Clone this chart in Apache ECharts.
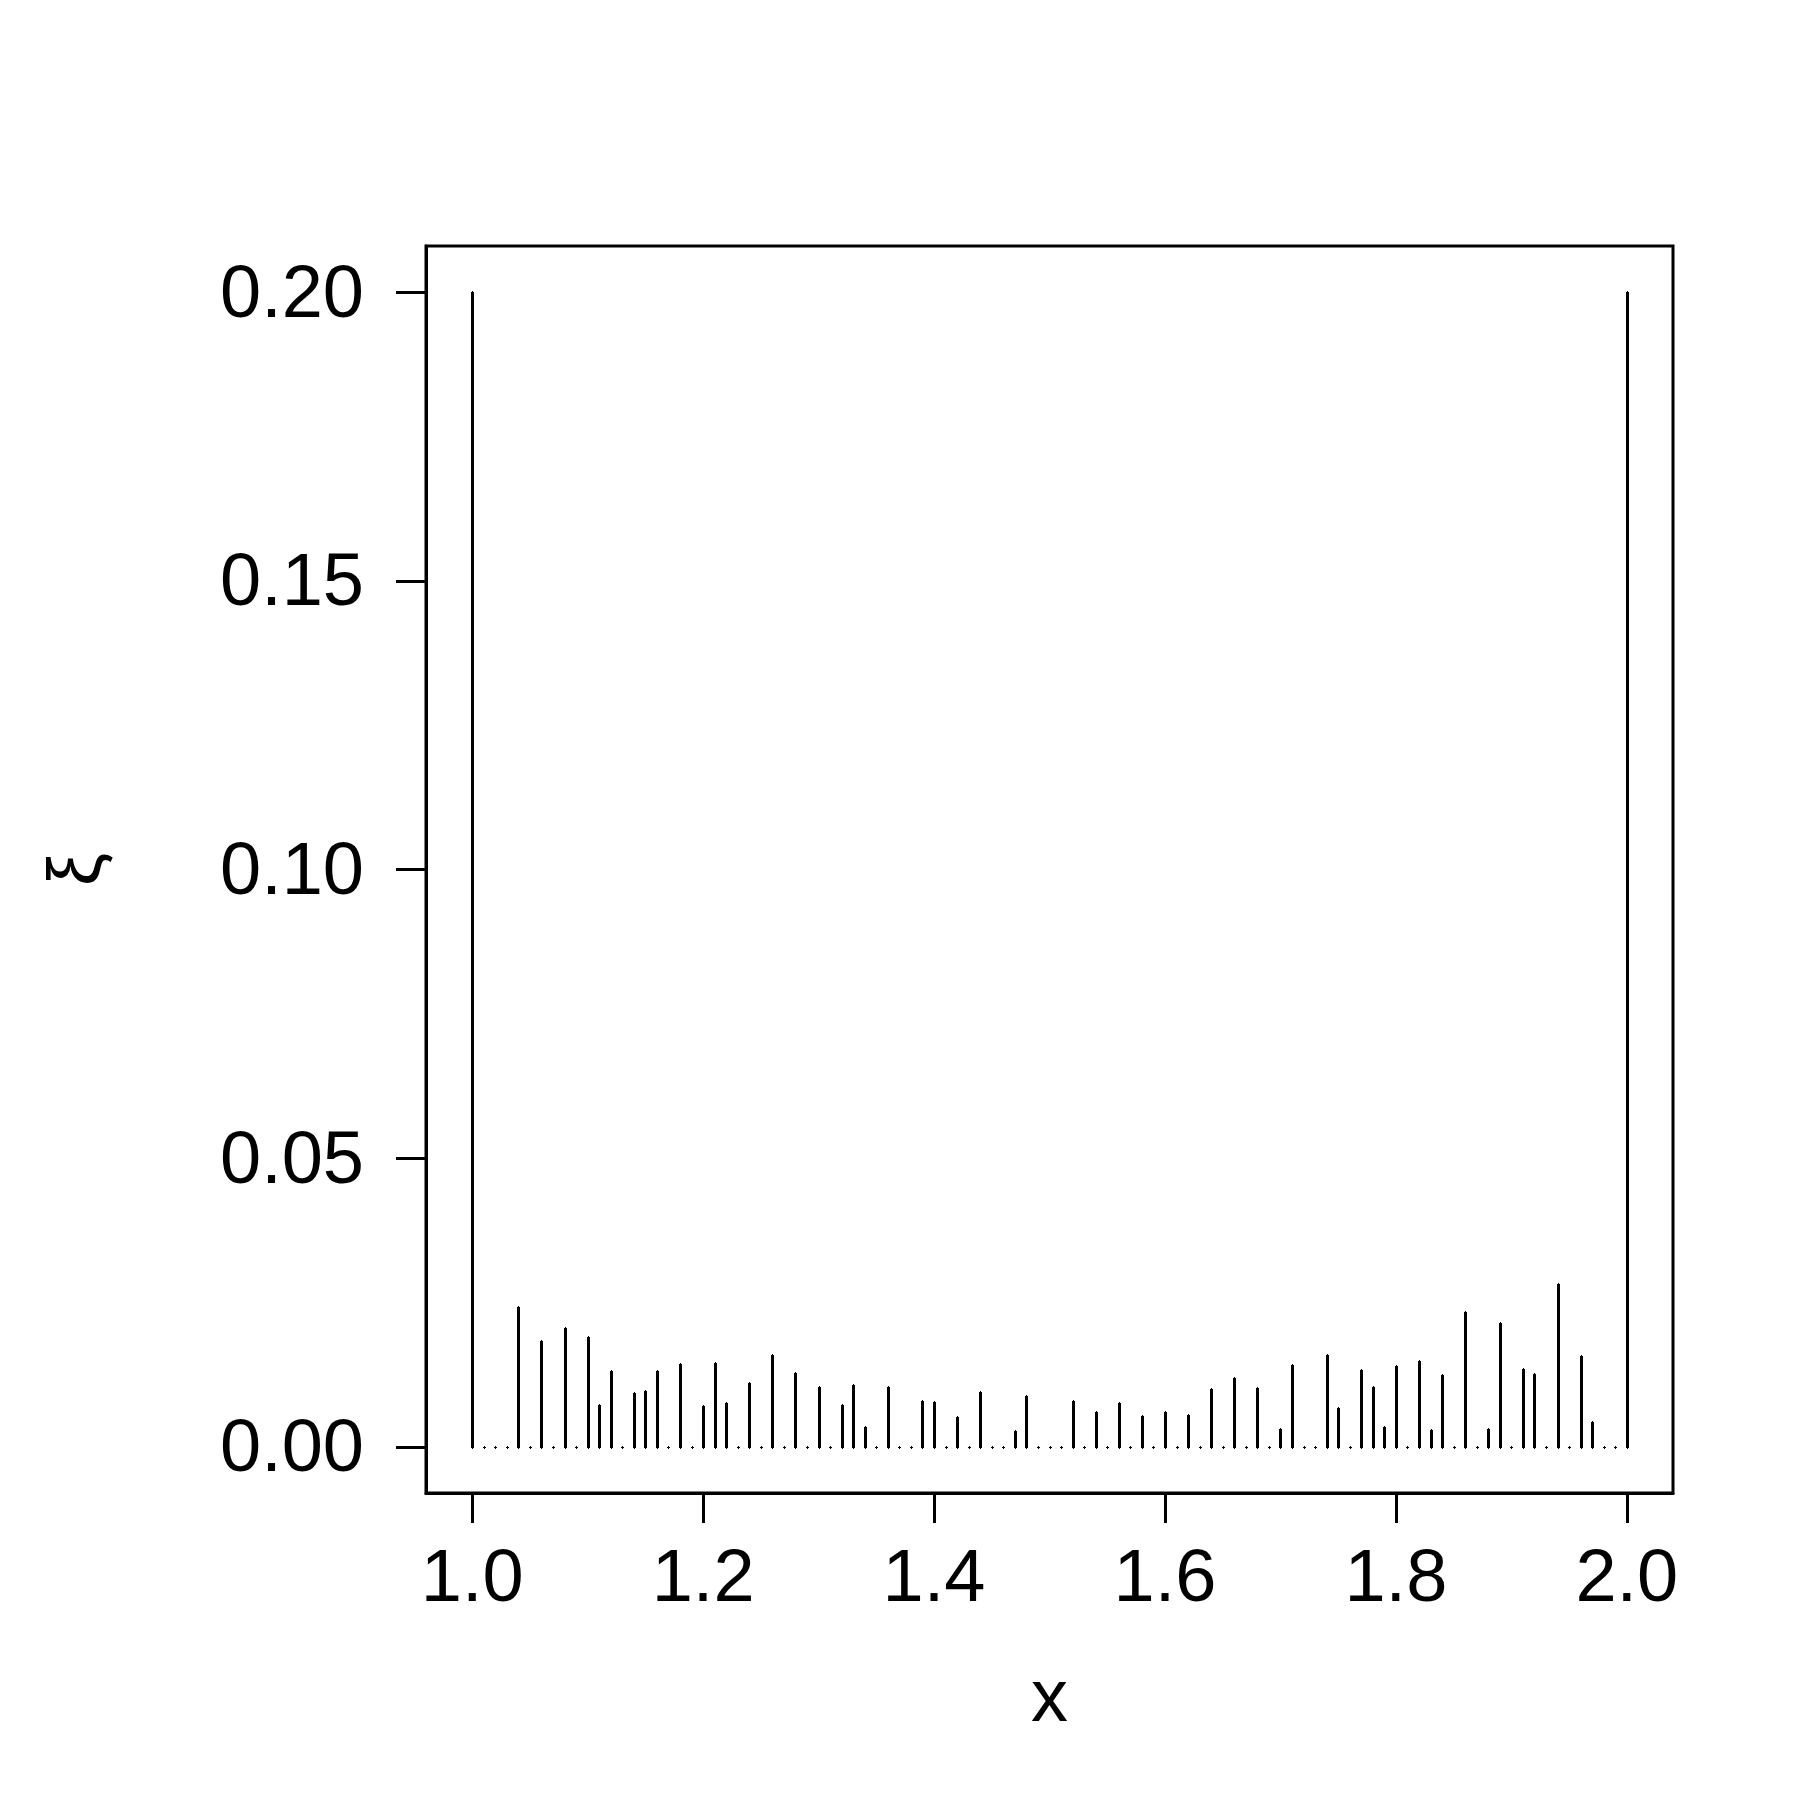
<!DOCTYPE html>
<html>
<head>
<meta charset="utf-8">
<script src="https://cdn.jsdelivr.net/npm/echarts@6/dist/echarts.min.js"></script>
<style>
  html, body { margin: 0; padding: 0; background: #fff; }
  #chart { width: 1800px; height: 1800px; }
</style>
</head>
<body>
<div id="chart"></div>
<script>
// x positions of the spikes
var xValues = [
    1.00, 1.01, 1.02, 1.03, 1.04, 1.05, 1.06, 1.07, 1.08, 1.09,
    1.10, 1.11, 1.12, 1.13, 1.14, 1.15, 1.16, 1.17, 1.18, 1.19,
    1.20, 1.21, 1.22, 1.23, 1.24, 1.25, 1.26, 1.27, 1.28, 1.29,
    1.30, 1.31, 1.32, 1.33, 1.34, 1.35, 1.36, 1.37, 1.38, 1.39,
    1.40, 1.41, 1.42, 1.43, 1.44, 1.45, 1.46, 1.47, 1.48, 1.49,
    1.50, 1.51, 1.52, 1.53, 1.54, 1.55, 1.56, 1.57, 1.58, 1.59,
    1.60, 1.61, 1.62, 1.63, 1.64, 1.65, 1.66, 1.67, 1.68, 1.69,
    1.70, 1.71, 1.72, 1.73, 1.74, 1.75, 1.76, 1.77, 1.78, 1.79,
    1.80, 1.81, 1.82, 1.83, 1.84, 1.85, 1.86, 1.87, 1.88, 1.89,
    1.90, 1.91, 1.92, 1.93, 1.94, 1.95, 1.96, 1.97, 1.98, 1.99,
    2.00
];

// spike heights (xi)
var xiValues = [
    0.2000, 0,      0,      0,      0.0242, 0,      0.0183, 0,      0.0206, 0,
    0.0190, 0.0072, 0.0131, 0,      0.0093, 0.0097, 0.0131, 0,      0.0143, 0,
    0.0071, 0.0145, 0.0076, 0,      0.0110, 0,      0.0159, 0,      0.0128, 0,
    0.0104, 0,      0.0072, 0.0107, 0.0034, 0,      0.0104, 0,      0,      0.0079,
    0.0078, 0,      0.0052, 0,      0.0095, 0,      0,      0.0027, 0.0088, 0,
    0,      0,      0.0079, 0,      0.0060, 0,      0.0076, 0,      0.0053, 0,
    0.0060, 0,      0.0055, 0,      0.0100, 0,      0.0119, 0,      0.0102, 0,
    0.0031, 0.0142, 0,      0,      0.0159, 0.0067, 0,      0.0133, 0.0104, 0.0034,
    0.0140, 0,      0.0149, 0.0029, 0.0124, 0,      0.0234, 0,      0.0031, 0.0215,
    0,      0.0135, 0.0126, 0,      0.0282, 0,      0.0157, 0.0043, 0,      0,
    0.2000
];

var xTicks = [1.0, 1.2, 1.4, 1.6, 1.8, 2.0];
var yTicks = [0, 0.05, 0.10, 0.15, 0.20];

var spikeData = xValues.map(function (x, i) {
    return [x, xiValues[i]];
});

var chartDom = document.getElementById('chart');
var myChart = echarts.init(chartDom, null, { renderer: 'canvas' });

var labelFont = {
    color: '#000',
    fontSize: 74,
    fontFamily: 'Liberation Sans, Arial, sans-serif'
};

// small "+" marker, drawn crisp on the pixel grid
function plusAt(cx, cy) {
    return [
        {
            type: 'line',
            shape: { x1: cx - 1.5, y1: cy, x2: cx + 1.5, y2: cy },
            style: { stroke: '#000', lineWidth: 1 }
        },
        {
            type: 'line',
            shape: { x1: cx, y1: cy - 1.5, x2: cx, y2: cy + 1.5 },
            style: { stroke: '#000', lineWidth: 1 }
        }
    ];
}

var option = {
    backgroundColor: '#fff',
    animation: false,
    grid: {
        left: 426,
        right: 127,
        top: 246,
        bottom: 307,
        show: true,
        borderColor: '#000',
        borderWidth: 3,
        backgroundColor: 'transparent'
    },
    xAxis: {
        type: 'value',
        min: 0.96,
        max: 2.04,
        name: 'x',
        nameLocation: 'middle',
        nameGap: 171,
        nameTextStyle: labelFont,
        axisLine: { show: true, onZero: false, lineStyle: { color: '#000', width: 3 } },
        axisTick: {
            show: true,
            length: 30,
            customValues: xTicks,
            lineStyle: { color: '#000', width: 3 }
        },
        axisLabel: Object.assign({
            margin: 51,
            customValues: xTicks,
            formatter: function (v) { return v.toFixed(1); }
        }, labelFont),
        splitLine: { show: false }
    },
    yAxis: {
        type: 'value',
        min: -0.008,
        max: 0.208,
        name: 'ξ',
        nameLocation: 'middle',
        nameRotate: 90,
        nameGap: 309,
        nameTextStyle: labelFont,
        axisLine: { show: true, onZero: false, lineStyle: { color: '#000', width: 3 } },
        axisTick: {
            show: true,
            length: 30,
            customValues: yTicks,
            lineStyle: { color: '#000', width: 3 }
        },
        axisLabel: Object.assign({
            margin: 62,
            customValues: yTicks,
            formatter: function (v) { return '{t|' + v.toFixed(2) + '}'; },
            rich: {
                t: Object.assign({ padding: [8, 0, 0, 0] }, labelFont)
            }
        }, labelFont),
        splitLine: { show: false }
    },
    series: [
        {
            type: 'custom',
            name: 'xi',
            data: spikeData,
            renderItem: function (params, api) {
                var x = api.value(0);
                var v = api.value(1);
                var p0 = api.coord([x, 0]);
                var p1 = api.coord([x, v]);
                var cx = Math.round(p0[0]) + 0.5;
                var y0 = Math.round(p0[1]) + 0.5;
                var y1 = Math.round(p1[1]) + 0.5;
                var children = [];
                if (v > 0) {
                    children.push({
                        type: 'line',
                        shape: { x1: cx, y1: y0, x2: cx, y2: y1 },
                        style: { stroke: '#000', lineWidth: 3 }
                    });
                    children = children.concat(plusAt(cx, y1));
                }
                children = children.concat(plusAt(cx, y0));
                return { type: 'group', children: children };
            }
        }
    ]
};

option && myChart.setOption(option);
</script>
</body>
</html>
